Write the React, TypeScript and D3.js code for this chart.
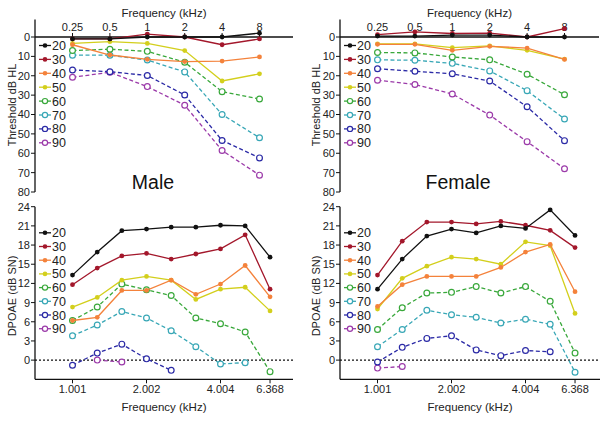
import React from 'react'
import * as d3 from 'd3'

const FONT = '"Liberation Sans", Arial, Helvetica, sans-serif'

const levels = ['20', '30', '40', '50', '60', '70', '80', '90']
const colors = ['#111111', '#a3172b', '#f4823b', '#d3cf1c', '#39a83b', '#38a7b6', '#2b2aa6', '#9b3aa9']
const hollow = [false, false, false, false, true, true, true, true]

// audiogram (top panels)
const thresholdFreqs = [0.25, 0.5, 1, 2, 4, 8]
const thresholdTickLabels = ['0.25', '0.5', '1', '2', '4', '8']
const thresholdYTicks = [0, 10, 20, 30, 40, 50, 60, 70, 80]

const maleThreshold = [
  [1, 1, 0, 0, 0, -2],
  [1, 1, -1.5, 0, 4, 1],
  [4, 9.3, 11.5, 12.7, 12.4, 10.3],
  [3.3, 2.4, 3.3, 7, 22.7, 19],
  [7, 6.3, 7.4, 13, 28.2, 32],
  [9.4, 9.4, 11.9, 18, 40, 52],
  [17, 17.9, 19.9, 29.9, 53.4, 62.4],
  [20.8, 18.2, 25.6, 35.2, 58.6, 71.3],
]
const femaleThreshold = [
  [-0.5, -0.5, -1, -1, 0, 0],
  [-1.2, -2.6, -1.8, -2, 0, -4.3],
  [3.8, 3.8, 6.9, 4.8, 5.7, 11.6],
  [3.5, 3.5, 5.5, 4.6, 6.9, 11.4],
  [8, 8.2, 10.3, 11.8, 19.2, 29.8],
  [11.8, 12, 13.6, 17.5, 27.7, 42.3],
  [16.4, 17.7, 19, 22.7, 36, 53.5],
  [22.3, 24.5, 29.4, 40.3, 54, 68],
]

// DPOAE (bottom panels)
const dpFreqs = [1.001, 1.262, 1.589, 2.002, 2.523, 3.178, 4.004, 5.045, 6.368]
const dpTicks = [1.001, 2.002, 4.004, 6.368]
const dpYTicks = [0, 3, 6, 9, 12, 15, 18, 21, 24]

const maleDpoae = [
  [13.3, 16.9, 20.25, 20.5, 20.8, 20.8, 21.1, 21.0, 16.1],
  [11.8, 14.4, 16.3, 16.7, 15.8, 16.6, 17.4, 19.6, 11.1],
  [6.2, 6.7, 10.9, 10.9, 12.5, 10.3, 11.9, 14.8, 9.9],
  [8.3, 9.8, 12.5, 13.1, 12.5, 9.5, 11.1, 11.4, 7.7],
  [6.2, 8.3, 11.9, 11.0, 10.1, 6.6, 5.7, 4.4, -1.8],
  [3.8, 5.5, 7.6, 6.6, 4.6, 2.1, -0.6, -0.4, null],
  [-0.8, 1.1, 2.5, 0.2, -1.6, null, null, null, null],
  [null, 0, -0.3, null, null, null, null, null, null],
]
const femaleDpoae = [
  [11.1, 15.8, 19.4, 20.5, 19.9, 21.0, 20.6, 23.5, 19.5],
  [13.3, 18.6, 21.6, 21.6, 21.3, 21.7, 21.1, 20.3, 17.6],
  [8.4, 11.8, 13.1, 13.1, 13.1, 14.5, 16.9, 18.1, 10.7],
  [8.0, 12.8, 14.7, 16.1, 15.8, 15.0, 18.5, 17.9, 7.3],
  [4.8, 8.2, 10.5, 10.6, 11.5, 10.5, 11.5, 9.2, 1.1],
  [2.1, 4.8, 7.8, 7.1, 6.7, 5.8, 6.4, 5.6, -1.9],
  [-0.3, 2.0, 3.4, 3.8, 1.6, 0.7, 1.5, 1.3, null],
  [-1.25, -1.0, null, null, null, null, null, null, null],
]

type Row = (number | null)[]

const Series = ({ freqs, rows, x, y }: { freqs: number[]; rows: Row[]; x: any; y: any }) => {
  const gen = d3.line<[number, number | null]>()
    .defined(d => d[1] !== null)
    .x(d => x(d[0]))
    .y(d => y(d[1] as number))
  const order = rows.map((_, i) => i).reverse()
  return (
    <g>
      {order.map(i => {
        const pts = freqs.map((f, j) => [f, rows[i][j]] as [number, number | null])
        return (
          <g key={i}>
            <path d={gen(pts) || ''} fill='none' stroke={colors[i]} strokeWidth={1.3}
              strokeDasharray={hollow[i] ? '4,2.5' : undefined} />
            {pts.filter(p => p[1] !== null).map((p, j) => (
              hollow[i]
                ? <circle key={j} cx={x(p[0])} cy={y(p[1] as number)} r={2.9} fill='white' stroke={colors[i]} strokeWidth={1.2} />
                : <circle key={j} cx={x(p[0])} cy={y(p[1] as number)} r={2.4} fill={colors[i]} />
            ))}
          </g>
        )
      })}
    </g>
  )
}

const Legend = ({ x0, y0, step }: { x0: number; y0: number; step: number }) => (
  <g>
    {levels.map((lv, i) => {
      const yy = y0 + i * step
      return (
        <g key={lv}>
          <line x1={x0} x2={x0 + 12} y1={yy} y2={yy} stroke={colors[i]} strokeWidth={1.3} />
          {hollow[i]
            ? <circle cx={x0 + 6} cy={yy} r={2.6} fill='white' stroke={colors[i]} strokeWidth={1.2} />
            : <circle cx={x0 + 6} cy={yy} r={2.3} fill={colors[i]} />}
          <text x={x0 + 13} y={yy} dy='0.36em' fontSize={12.5} fill='#222'>{lv}</text>
        </g>
      )
    })}
  </g>
)

const TopPanel = ({ left, width, rows, label, labelX }: { left: number; width: number; rows: Row[]; label: string; labelX: number }) => {
  const x = d3.scaleLog().base(2).domain([0.25, 8]).range([left + 37.5, left + 224.5])
  const y = d3.scaleLinear().domain([0, 80]).range([37, 192])
  const cx = left + width / 2
  return (
    <g>
      <line x1={left} x2={left} y1={y(-9)} y2={y(80)} stroke='#111' strokeWidth={1.3} />
      <line x1={left} x2={left + width} y1={y(0)} y2={y(0)} stroke='#111' strokeWidth={1.3} />
      {thresholdYTicks.map(t => (
        <g key={t}>
          <line x1={left - 4} x2={left} y1={y(t)} y2={y(t)} stroke='#111' />
          <text x={left - 5} y={y(t)} dy='0.36em' textAnchor='end' fontSize={11} fill='#222'>{t}</text>
        </g>
      ))}
      {thresholdFreqs.map((f, i) => (
        <g key={f}>
          <line x1={x(f)} x2={x(f)} y1={y(0) - 4} y2={y(0)} stroke='#111' />
          <text x={x(f)} y={31} textAnchor='middle' fontSize={11} fill='#222'>{thresholdTickLabels[i]}</text>
        </g>
      ))}
      <text x={cx} y={17} textAnchor='middle' fontSize={11.5} fill='#222'>Frequency (kHz)</text>
      <text transform={`translate(${labelX},105) rotate(-90)`} dy='0.36em' textAnchor='middle' fontSize={11} fill='#222'>Threshold dB HL</text>
      <Series freqs={thresholdFreqs} rows={rows} x={x} y={y} />
      <Legend x0={left + 4} y0={45.5} step={13.9} />
      <text x={left + 118} y={189} textAnchor='middle' fontSize={19.5} fill='#111'>{label}</text>
    </g>
  )
}

const BottomPanel = ({ left, width, rows, labelX }: { left: number; width: number; rows: Row[]; labelX: number }) => {
  const x = d3.scaleLog().base(2).domain([1.001, 4.004]).range([left + 37.5, left + 185.5])
  const y = d3.scaleLinear().domain([-3, 24]).range([379.3, 206.7])
  const cx = left + width / 2
  return (
    <g>
      <line x1={left} x2={left} y1={y(24)} y2={y(-3)} stroke='#111' strokeWidth={1.3} />
      <line x1={left} x2={left + width} y1={y(-3)} y2={y(-3)} stroke='#111' strokeWidth={1.3} />
      <line x1={left} x2={left + width} y1={y(0)} y2={y(0)} stroke='#111' strokeWidth={1.2} strokeDasharray='2,2' />
      {dpYTicks.map(t => (
        <g key={t}>
          <line x1={left - 4} x2={left} y1={y(t)} y2={y(t)} stroke='#111' />
          <text x={left - 5} y={y(t)} dy='0.36em' textAnchor='end' fontSize={11} fill='#222'>{t}</text>
        </g>
      ))}
      {dpTicks.map(f => (
        <g key={f}>
          <line x1={x(f)} x2={x(f)} y1={y(-3)} y2={y(-3) + 4} stroke='#111' />
          <text x={x(f)} y={393} textAnchor='middle' fontSize={11} fill='#222'>{f.toFixed(3)}</text>
        </g>
      ))}
      <text x={cx} y={411} textAnchor='middle' fontSize={11.5} fill='#222'>Frequency (kHz)</text>
      <text transform={`translate(${labelX},296) rotate(-90)`} dy='0.36em' textAnchor='middle' fontSize={11} fill='#222'>DPOAE (dB SN)</text>
      <Series freqs={dpFreqs} rows={rows} x={x} y={y} />
      <Legend x0={left + 4} y0={232.8} step={13.7} />
    </g>
  )
}

export default function App() {
  return (
    <svg width={604} height={421} style={{ position: 'absolute', left: 0, top: 0, background: 'white', fontFamily: FONT }}>
      <TopPanel left={35} width={258} rows={maleThreshold} label='Male' labelX={12} />
      <TopPanel left={340} width={259} rows={femaleThreshold} label='Female' labelX={316} />
      <BottomPanel left={35} width={258} rows={maleDpoae} labelX={12} />
      <BottomPanel left={340} width={260} rows={femaleDpoae} labelX={316} />
    </svg>
  )
}
